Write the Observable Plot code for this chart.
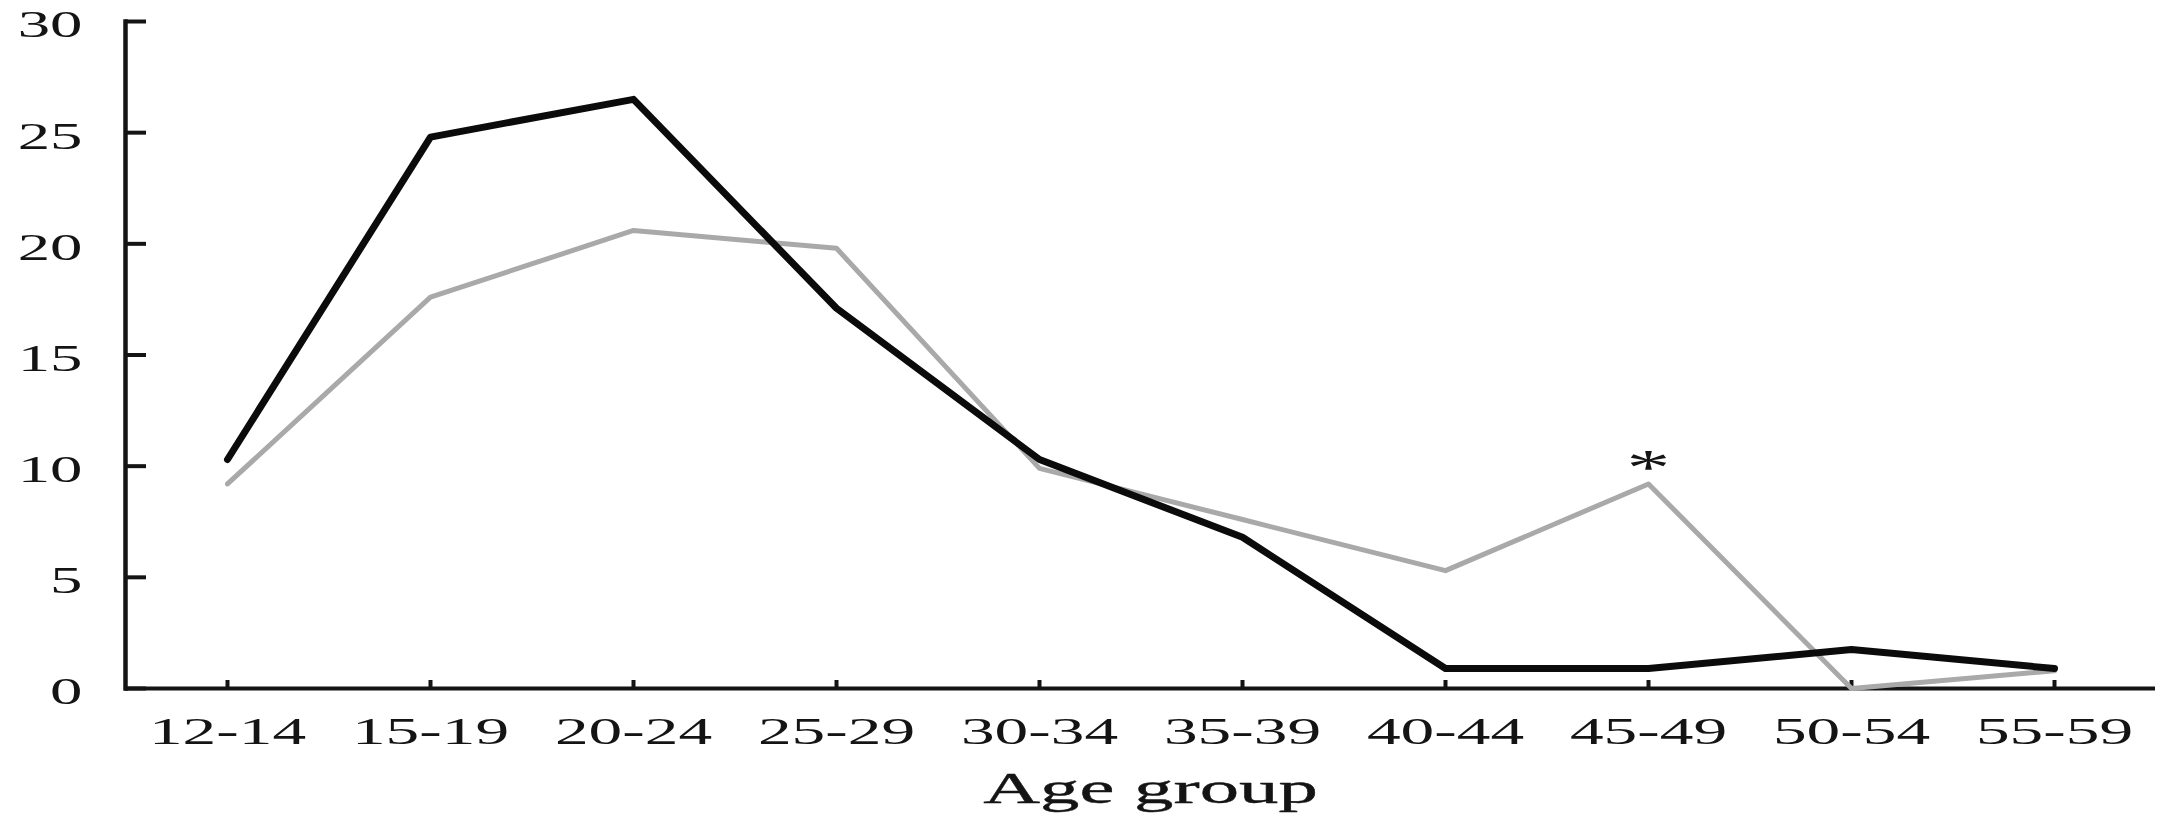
<!DOCTYPE html>
<html><head><meta charset="utf-8">
<script src="https://cdn.jsdelivr.net/npm/d3@7"></script>
<script src="https://cdn.jsdelivr.net/npm/@observablehq/plot@0.6"></script>
<style>body{margin:0;background:#fff;} svg{display:block;}</style>
</head><body>
<div id="chart"></div>
<script>
// ---- data ----
const ageGroups = ["12-14","15-19","20-24","25-29","30-34","35-39","40-44","45-49","50-54","55-59"];
const blackSeries = [10.3, 24.8, 26.5, 17.1, 10.3, 6.8, 0.9, 0.9, 1.75, 0.9];
const graySeries  = [9.2, 17.6, 20.6, 19.8, 9.9, 7.6, 5.3, 9.2, 0.0, 0.8];
const yTicks = [0, 5, 10, 15, 20, 25, 30];
const starGroups = ["45-49"];
const xTitle = "Age group";

const toRows = (vals) => ageGroups.map((g, i) => ({group: g, value: vals[i]}));
const blackRows = toRows(blackSeries);
const grayRows = toRows(graySeries);
const starRows = starGroups.map(g => ({group: g, value: graySeries[ageGroups.indexOf(g)], label: "*"}));

const FONT = "'Liberation Serif', 'Times New Roman', serif";
const INK = "#141414";
const Y_TICK = 21, X_TICK = 8;

const plot = Plot.plot({
  width: 2172,
  height: 818,
  marginLeft: 125,
  marginRight: 17,
  marginTop: 21,
  marginBottom: 130,
  style: {fontFamily: FONT, color: INK, background: "#fff"},
  x: {type: "point", domain: ageGroups, padding: 0.5},
  y: {domain: [0, 30]},
  marks: [
    Plot.frame({anchor: "left", stroke: INK, strokeWidth: 4.5}),
    Plot.ruleY([0], {stroke: INK, strokeWidth: 4}),
    // inward-pointing ticks
    Plot.axisY({ticks: yTicks, tickSize: Y_TICK, dx: Y_TICK, stroke: INK, strokeWidth: 4, fill: "none", label: null}),
    Plot.axisY({ticks: yTicks, tickSize: 0, tickPadding: 43, dy: 4, fontSize: 37, fill: INK, stroke: INK, strokeWidth: 0.4, label: null}),
    Plot.axisX({tickSize: X_TICK, dy: -X_TICK, stroke: INK, strokeWidth: 4, fill: "none", label: null}),
    Plot.axisX({tickSize: 0, tickPadding: 28, fontSize: 38.5, fill: INK, stroke: INK, strokeWidth: 0.4, label: null}),
    Plot.text([xTitle], {frameAnchor: "bottom", lineAnchor: "bottom", dy: 114, dx: 10, fontSize: 45, fill: INK, stroke: INK, strokeWidth: 0.4}),
    Plot.lineY(grayRows, {x: "group", y: "value", stroke: "#a9a9a9", strokeWidth: 5}),
    Plot.lineY(blackRows, {x: "group", y: "value", stroke: "#0b0b0b", strokeWidth: 7}),
    Plot.text(starRows, {x: "group", y: "value", text: "label", dy: -16, fontSize: 50, fill: INK})
  ]
});
document.getElementById("chart").append(plot);

// the reference's lettering is horizontally stretched; reproduce that
const STRETCH = 1.75;
d3.select(plot).selectAll("text").each(function () {
  const w = this.getComputedTextLength();
  if (w > 0) {
    this.setAttribute("textLength", (w * STRETCH).toFixed(1));
    this.setAttribute("lengthAdjust", "spacingAndGlyphs");
  }
});
</script>
</body></html>
